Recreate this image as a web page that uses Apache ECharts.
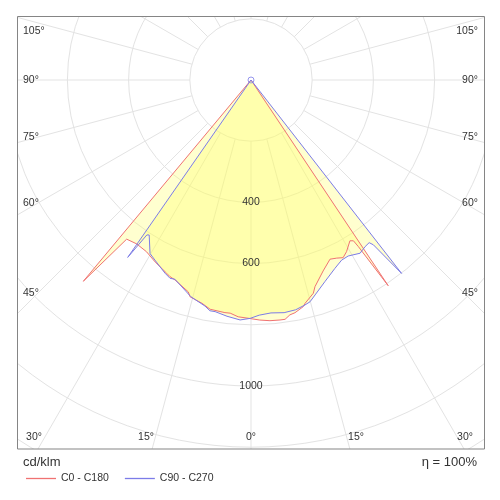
<!DOCTYPE html>
<html lang="en">
<head>
<meta charset="UTF-8">
<title>LDC</title>
<script src="https://cdn.jsdelivr.net/npm/echarts@6/dist/echarts.min.js"></script>
<style>
  html, body { margin: 0; padding: 0; background: #fff; }
  #main { width: 500px; height: 500px; }
</style>
</head>
<body>
<div id="main"></div>
<script>
// gamma angles (deg, negative = left half) and intensities in cd/klm
var redAngles = [-40.3, -39.8, -38.0, -34.9, -31.3, -27.8, -23.6, -22.4, -20.8, -16.5, -15.7, -12.4, -10.1, -6.4, -5.1, -3.1, -0.5,
  2.1, 4.5, 6.9, 8.1, 9.4, 10.7, 13.0, 13.6, 16.3, 17.2, 20.7, 23.8, 25.7, 27.4, 29.1, 31.6, 32.5, 32.8, 33.7, 34.2];
var redValues = [0, 856, 660, 653, 657, 672, 689, 695, 699, 722, 736, 747, 761, 765, 765, 775, 779,
  785, 789, 790, 790, 778, 774, 760, 751, 726, 707, 667, 640, 646, 654, 642, 617, 623, 648, 808, 0];

var blueAngles = [-35.2, -34.8, -33.9, -33.3, -30.2, -28.1, -24.0, -22.2, -20.9, -15.5, -11.5, -10.1, -8.8, -5.8, -2.6, -0.2,
  2.0, 4.9, 8.1, 11.0, 13.5, 14.9, 16.6, 20.1, 24.0, 26.7, 28.9, 32.2, 34.4, 36.0, 36.6, 37.9, 38.3];
var blueValues = [0, 706, 610, 606, 656, 667, 691, 700, 697, 735, 754, 766, 766, 776, 785, 779,
  769, 764, 768, 765, 756, 750, 733, 702, 674, 659, 657, 669, 660, 657, 671, 801, 0];

var radiusLabels = [400, 600, 1000];
var sideLabels = ['105°', '90°', '75°', '60°', '45°'];
var bottomLabels = ['30°', '15°', '0°', '15°', '30°'];

// layout
var sideY = [31, 80, 137, 203, 293];
var bottomX = [34, 146, 251, 356, 465];
var cx = 251, cy = 80, pxPer = 0.306;
var font = '"Liberation Sans", Arial, sans-serif';
var txt = '#333';
var grid = '#e3e3e3';
var red = '#f07272', blue = '#7c7ce8';

function toAxis(a) { return a < 0 ? a + 360 : a; }
function pairs(vals, angs) {
  return vals.map(function (v, i) { return [v, toAxis(angs[i])]; });
}

var graphics = [
  // mask everything outside the plot frame
  { type: 'rect', shape: { x: 0, y: 0, width: 500, height: 16 }, style: { fill: '#fff' }, z: 100, silent: true },
  { type: 'rect', shape: { x: 0, y: 0, width: 17, height: 500 }, style: { fill: '#fff' }, z: 100, silent: true },
  { type: 'rect', shape: { x: 485, y: 0, width: 15, height: 500 }, style: { fill: '#fff' }, z: 100, silent: true },
  { type: 'rect', shape: { x: 0, y: 449, width: 500, height: 51 }, style: { fill: '#fff' }, z: 100, silent: true },
  { type: 'rect', shape: { x: 17.5, y: 16.5, width: 467, height: 432.5 }, style: { fill: 'none', stroke: '#858585', lineWidth: 1 }, z: 101, silent: true },
  { type: 'text', x: 23, y: 462, style: { text: 'cd/klm', fill: txt, font: '13px ' + font, verticalAlign: 'middle' }, z: 110 },
  { type: 'text', x: 477, y: 462, style: { text: 'η = 100%', fill: txt, font: '13px ' + font, align: 'right', verticalAlign: 'middle' }, z: 110 }
];
sideLabels.forEach(function (t, i) {
  graphics.push({ type: 'text', x: 23, y: sideY[i], style: { text: t, fill: txt, font: '10.5px ' + font, verticalAlign: 'middle' }, z: 110 });
  graphics.push({ type: 'text', x: 478, y: sideY[i], style: { text: t, fill: txt, font: '10.5px ' + font, align: 'right', verticalAlign: 'middle' }, z: 110 });
});
bottomLabels.forEach(function (t, i) {
  graphics.push({ type: 'text', x: bottomX[i], y: 437, style: { text: t, fill: txt, font: '10.5px ' + font, align: 'center', verticalAlign: 'middle' }, z: 110 });
});

var hidden = { axisLine: { show: false }, axisTick: { show: false }, axisLabel: { show: false }, splitLine: { show: false } };

var myChart = echarts.init(document.getElementById('main'));
var option = {
  animation: false,
  backgroundColor: '#fff',
  // polar 0: grid with an empty centre, polar 1: full disc for the curves
  polar: [
    { center: [cx, cy], radius: [200 * pxPer, 1600 * pxPer] },
    { center: [cx, cy], radius: [0, 1600 * pxPer] }
  ],
  angleAxis: [
    {
      polarIndex: 0, type: 'value', min: 0, max: 360, interval: 15, startAngle: 270, clockwise: false,
      axisLine: { show: false }, axisTick: { show: false }, axisLabel: { show: false },
      splitLine: { show: true, lineStyle: { color: grid, width: 1 } }
    },
    Object.assign({ polarIndex: 1, type: 'value', min: 0, max: 360, interval: 15, startAngle: 270, clockwise: false }, hidden)
  ],
  radiusAxis: [
    {
      polarIndex: 0, type: 'value', min: 200, max: 1600, interval: 200, z: 3,
      axisLine: { show: false }, axisTick: { show: false },
      axisLabel: {
        margin: 0, align: 'center', verticalAlign: 'middle', padding: [6, 0, 0, 0],
        color: txt, fontSize: 10.5, fontFamily: font,
        formatter: function (v) { return radiusLabels.indexOf(v) >= 0 ? String(v) : ''; }
      },
      splitLine: { show: true, lineStyle: { color: grid, width: 1 } }
    },
    Object.assign({ polarIndex: 1, type: 'value', min: 0, max: 1600, interval: 200 }, hidden)
  ],
  legend: {
    data: ['C0 - C180', 'C90 - C270'], left: 21, top: 468, z: 200,
    icon: 'rect', itemWidth: 30, itemHeight: 1.3, itemGap: 16, selectedMode: false,
    textStyle: { fontSize: 10.5, color: txt, fontFamily: font }
  },
  graphic: graphics,
  series: [
    {
      name: 'C0 - C180', type: 'line', coordinateSystem: 'polar', polarIndex: 1,
      data: pairs(redValues, redAngles), symbol: 'none',
      lineStyle: { color: red, width: 1 }, itemStyle: { color: red },
      areaStyle: { color: '#ffff60', opacity: 0.3, origin: 0 }
    },
    {
      name: 'C90 - C270', type: 'line', coordinateSystem: 'polar', polarIndex: 1,
      data: pairs(blueValues, blueAngles), symbol: 'none',
      lineStyle: { color: blue, width: 1 }, itemStyle: { color: blue },
      areaStyle: { color: '#ffff60', opacity: 0.3, origin: 0 }
    },
    {
      type: 'scatter', coordinateSystem: 'polar', polarIndex: 1, silent: true, z: 5,
      data: [[0, 0]], symbolSize: 6,
      itemStyle: { color: 'rgba(255,255,255,0)', borderColor: blue, borderWidth: 1 }
    }
  ]
};
myChart.setOption(option);
</script>
</body>
</html>
